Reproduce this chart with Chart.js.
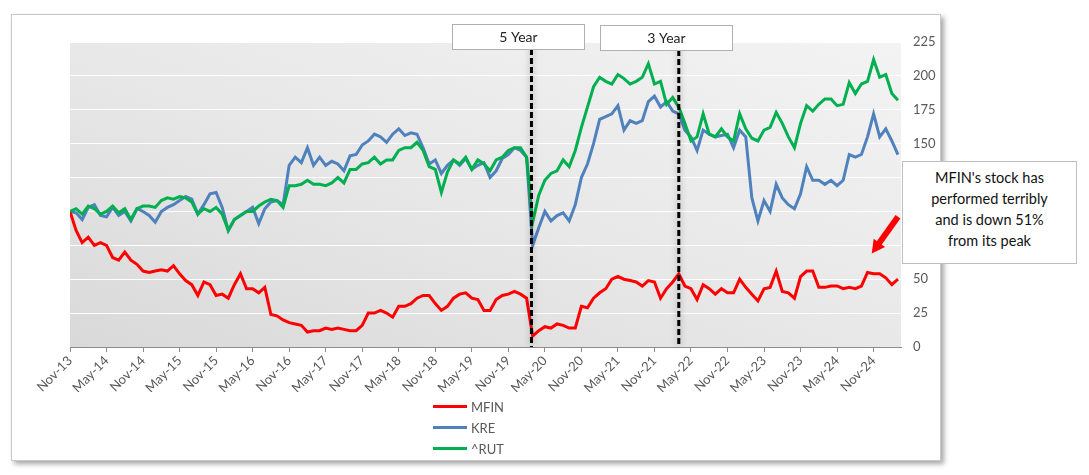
<!DOCTYPE html>
<html>
<head>
<meta charset="utf-8">
<script src="https://cdn.jsdelivr.net/npm/chart.js@4.4.1/dist/chart.umd.min.js"></script>
<style>
    body { margin: 0; background: #fff; font-family: Lato, "Noto Sans", sans-serif; }
    #frame {
        position: absolute; left: 11px; top: 14px; width: 930px; height: 447px;
        box-sizing: border-box; border: 1px solid #c8c8c8; background: #fff;
        box-shadow: 3px 3px 5px rgba(0,0,0,0.35);
    }
    #wrap { position: absolute; left: 0; top: 0; width: 928px; height: 445px; }
    #legend { position: absolute; left: 421px; top: 381px; }
    .item { display: flex; align-items: center; height: 21px; font-size: 13px; color: #595959; }
    .swatch { width: 34px; height: 3px; margin-right: 4px; }
    #note {
        position: absolute; left: 902px; top: 161px; width: 175px; height: 103px;
        box-sizing: border-box; border: 1px solid #bfbfbf; background: #fff;
        text-align: center; font-size: 14.5px; line-height: 21px; padding-top: 5px; color: #111;
    }
</style>
</head>
<body>
<div id="frame">
    <div id="wrap"><canvas id="chart"></canvas></div>
    <div id="legend"></div>
</div>
<div id="note">MFIN's stock has<br>performed terribly<br>and is down 51%<br>from its peak</div>

<script>
// monthly readings, Nov-13 .. Mar-25, indexed to 100 at start
const mfin = [
    100, 86, 77, 81, 75, 77, 75, 66, 64, 70, 64, 61, 56, 55, 56, 57, 56, 60, 54, 49,
    46, 38, 48, 46, 38, 39, 36, 46, 54, 43, 43, 40, 44, 24, 23, 20, 18, 17, 16, 11,
    12, 12, 14, 13, 14, 13, 12, 12, 16, 25, 25, 27, 25, 22, 30, 30, 32, 36, 38, 38,
    32, 27, 30, 36, 39, 40, 36, 35, 27, 27, 35, 38, 39, 41, 39, 36, 8, 12, 15, 14,
    17, 16, 14, 14, 30, 29, 36, 40, 43, 50, 52, 50, 49, 48, 45, 49, 48, 36, 43, 48,
    54, 45, 43, 35, 46, 43, 39, 43, 40, 40, 50, 44, 39, 34, 43, 44, 56, 41, 40, 36,
    52, 56, 56, 44, 44, 45, 45, 43, 44, 43, 45, 55, 54, 54, 51, 46, 50
];
const kre = [
    100, 99, 94, 103, 105, 97, 96, 103, 97, 100, 93, 102, 100, 97, 92, 100, 103, 105, 108, 111,
    109, 98, 105, 113, 114, 103, 86, 94, 97, 100, 103, 91, 102, 107, 108, 105, 134, 140, 136, 147,
    134, 140, 134, 137, 135, 130, 141, 142, 149, 152, 157, 155, 151, 157, 161, 156, 158, 157, 147, 135,
    138, 128, 134, 138, 134, 139, 131, 134, 136, 125, 130, 139, 142, 147, 145, 140, 75, 88, 100, 93,
    97, 99, 93, 105, 125, 135, 150, 168, 170, 172, 178, 160, 167, 165, 167, 181, 185, 177, 181, 174,
    172, 160, 155, 145, 160, 157, 155, 156, 157, 147, 160, 155, 110, 93, 108, 100, 120, 110, 105, 102,
    113, 133, 123, 123, 120, 123, 119, 123, 142, 140, 142, 155, 172, 155, 161, 152, 142
];
const rut = [
    100, 102, 98, 104, 102, 98, 100, 104, 99, 102, 94, 102, 104, 104, 103, 108, 110, 109, 111, 110,
    107, 98, 102, 100, 103, 98, 86, 94, 97, 100, 100, 104, 107, 109, 108, 103, 119, 119, 120, 123,
    120, 120, 119, 121, 125, 121, 131, 131, 135, 136, 140, 135, 138, 138, 145, 147, 147, 151, 145, 133,
    131, 114, 129, 138, 135, 140, 131, 138, 135, 130, 138, 140, 145, 147, 147, 140, 92, 112, 123, 128,
    130, 138, 133, 145, 162, 177, 192, 199, 196, 194, 201, 198, 194, 196, 199, 209, 194, 196, 179, 184,
    177, 165, 152, 155, 172, 157, 155, 161, 155, 152, 172, 161, 154, 152, 160, 162, 173, 165, 155, 147,
    165, 178, 174, 179, 183, 183, 178, 179, 195, 187, 194, 196, 212, 199, 201, 187, 182
];
const seriesNames = ["MFIN", "KRE", "^RUT"];
const seriesColors = ["#ff0000", "#4f81bd", "#00b050"];

const tickLabels = [
    "Nov-13", "May-14", "Nov-14", "May-15", "Nov-15", "May-16", "Nov-16", "May-17",
    "Nov-17", "May-18", "Nov-18", "May-19", "Nov-19", "May-20", "Nov-20", "May-21",
    "Nov-21", "May-22", "Nov-22", "May-23", "Nov-23", "May-24", "Nov-24"
];
const yTicks = [0, 25, 50, 75, 100, 125, 150, 175, 200, 225];

// vertical markers (month index from Nov-13)
const markerMonths = [75.8, 100];
const markerLabels = ["5 Year", "3 Year"];

const monthNames = ["Jan","Feb","Mar","Apr","May","Jun","Jul","Aug","Sep","Oct","Nov","Dec"];
const months = mfin.map((_, i) => monthNames[(10 + i) % 12] + "-" + (13 + Math.floor((10 + i) / 12)));

const font = { family: "Lato", size: 13 };

// diagonal shading, darkest bottom-left, lightest top-right (in plot-area proportions)
const plotBackground = {
    id: "plotBackground",
    beforeDraw(chart) {
        const { ctx, chartArea: a } = chart;
        ctx.save();
        ctx.translate(a.left, a.top);
        ctx.scale(a.right - a.left, a.bottom - a.top);
        const g = ctx.createLinearGradient(0, 1, 1, 0);
        g.addColorStop(0, "#d9d9d9");
        g.addColorStop(0.5, "#e8e8e8");
        g.addColorStop(1, "#f3f3f3");
        ctx.fillStyle = g;
        ctx.fillRect(0, 0, 1, 1);
        ctx.restore();
    }
};

const annotations = {
    id: "annotations",
    afterDatasetsDraw(chart) {
        const { ctx, chartArea: a, scales } = chart;
        ctx.save();

        markerMonths.forEach((m, i) => {
            const x = scales.x.getPixelForValue(m);
            const boxTop = 9 + i;
            const boxH = 25;
            const boxW = 132;

            ctx.save();
            ctx.shadowColor = "rgba(0,0,0,0.35)";
            ctx.shadowBlur = 6;
            ctx.strokeStyle = "#000";
            ctx.lineWidth = 3;
            ctx.setLineDash([6, 3]);
            ctx.beginPath();
            ctx.moveTo(x, boxTop + boxH);
            ctx.lineTo(x, a.bottom);
            ctx.stroke();
            ctx.restore();

            const bx = Math.round(x - 13 - boxW / 2) + 0.5;
            ctx.fillStyle = "#fff";
            ctx.fillRect(bx, boxTop + 0.5, boxW, boxH);
            ctx.strokeStyle = "#b0b0b0";
            ctx.lineWidth = 1;
            ctx.strokeRect(bx, boxTop + 0.5, boxW, boxH);
            ctx.fillStyle = "#222";
            ctx.font = "14px Lato";
            ctx.textAlign = "center";
            ctx.textBaseline = "middle";
            ctx.fillText(markerLabels[i], bx + boxW / 2, boxTop + boxH / 2 + 1);
        });

        // red arrow pointing at the recent MFIN level
        const x1 = scales.x.getPixelForValue(136), y1 = scales.y.getPixelForValue(96);
        const x2 = scales.x.getPixelForValue(131.7), y2 = scales.y.getPixelForValue(69);
        const ang = Math.atan2(y2 - y1, x2 - x1);
        const head = 13;
        ctx.strokeStyle = "#ff0000";
        ctx.fillStyle = "#ff0000";
        ctx.lineWidth = 6;
        ctx.beginPath();
        ctx.moveTo(x1, y1);
        ctx.lineTo(x2 - head * 0.8 * Math.cos(ang), y2 - head * 0.8 * Math.sin(ang));
        ctx.stroke();
        ctx.beginPath();
        ctx.moveTo(x2, y2);
        ctx.lineTo(x2 - head * Math.cos(ang) + 7 * Math.sin(ang), y2 - head * Math.sin(ang) - 7 * Math.cos(ang));
        ctx.lineTo(x2 - head * Math.cos(ang) - 7 * Math.sin(ang), y2 - head * Math.sin(ang) + 7 * Math.cos(ang));
        ctx.closePath();
        ctx.fill();

        ctx.restore();
    }
};

const series = [mfin, kre, rut];
const drawOrder = [1, 2, 0];

const chart = new Chart(document.getElementById("chart"), {
    type: "line",
    data: {
        datasets: series.map((values, i) => ({
            label: seriesNames[i],
            data: values.map((v, k) => ({ x: k, y: v, month: months[k] })),
            borderColor: seriesColors[i],
            backgroundColor: seriesColors[i],
            borderWidth: 3,
            pointRadius: 0,
            tension: 0,
            order: drawOrder[i]
        }))
    },
    options: {
        responsive: true,
        maintainAspectRatio: false,
        animation: false,
        layout: { padding: { top: 27, left: 58, right: 0, bottom: 68 } },
        plugins: {
            legend: { display: false },
            tooltip: { enabled: false }
        },
        scales: {
            x: {
                type: "linear",
                min: 0,
                max: 136.5,
                ticks: {
                    stepSize: 6,
                    includeBounds: false,
                    autoSkip: false,
                    minRotation: 45,
                    maxRotation: 45,
                    padding: 1,
                    color: "#595959",
                    font: font,
                    callback: v => tickLabels[Math.round(v / 6)] ?? ""
                },
                grid: { drawOnChartArea: false, drawTicks: true, tickLength: 5, color: "#8c8c8c" },
                border: { color: "#8c8c8c", width: 1 },
                afterFit: s => { s.height = 45; s.paddingLeft = 0; s.paddingRight = 0; }
            },
            y: {
                position: "right",
                min: 0,
                max: 225,
                afterBuildTicks: s => { s.ticks = yTicks.map(v => ({ value: v })); },
                ticks: { padding: 12, color: "#595959", font: font },
                grid: { color: "#ffffff", lineWidth: 1, drawTicks: false },
                border: { display: false },
                afterFit: s => { s.width = 39; s.paddingTop = 0; s.paddingBottom = 0; }
            }
        }
    },
    plugins: [plotBackground, annotations]
});

const legend = document.getElementById("legend");
chart.data.datasets.forEach(ds => {
    legend.innerHTML += `
        <div class="item">
            <span class="swatch" style="background:${ds.borderColor}"></span>
            <span>${ds.label}</span>
        </div>`;
});
</script>
</body>
</html>
